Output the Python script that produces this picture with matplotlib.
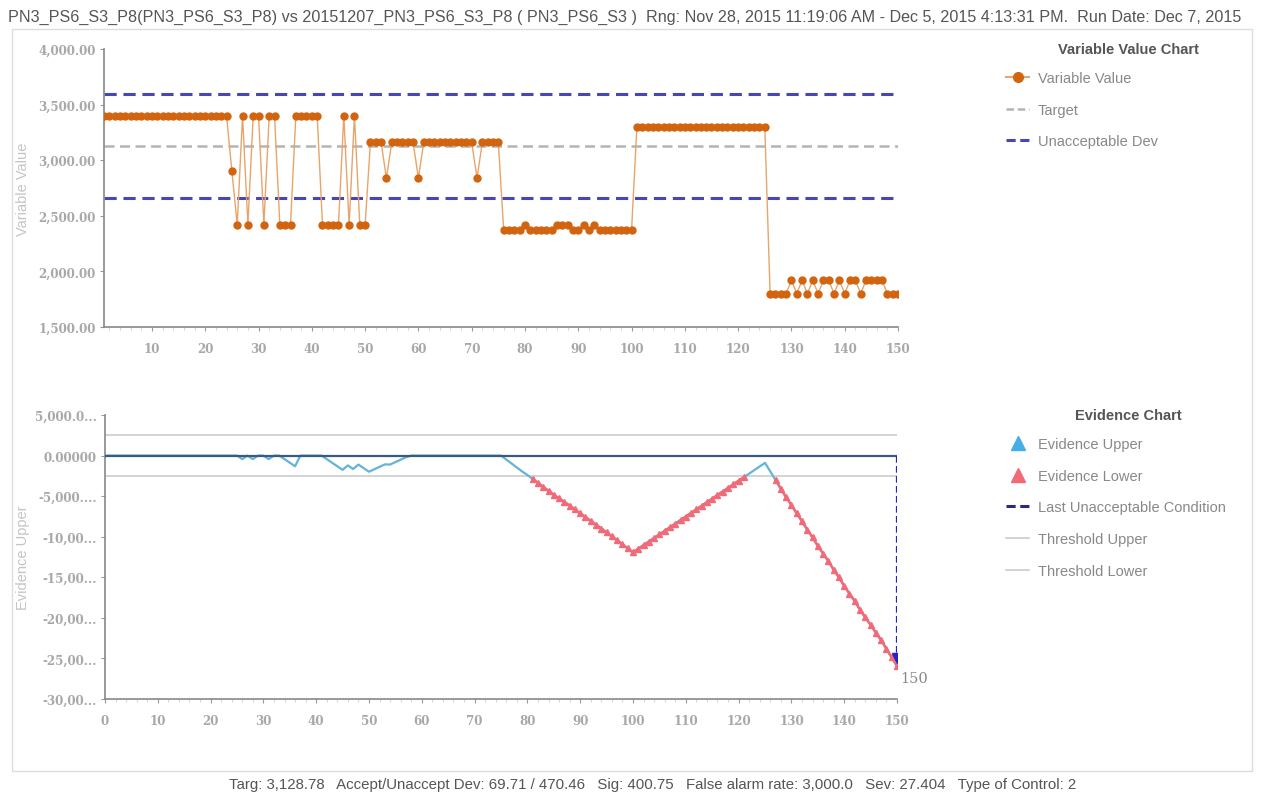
import numpy as np
import matplotlib.pyplot as plt
from matplotlib.lines import Line2D
from matplotlib.patches import Rectangle

plt.rcParams['font.family'] = ['Liberation Sans', 'DejaVu Sans']

# ---- data ----
title = ("PN3_PS6_S3_P8(PN3_PS6_S3_P8) vs 20151207_PN3_PS6_S3_P8 ( PN3_PS6_S3 )  "
         "Rng: Nov 28, 2015 11:19:06 AM - Dec 5, 2015 4:13:31 PM.  Run Date: Dec 7, 2015")
footer = ("Targ: 3,128.78   Accept/Unaccept Dev: 69.71 / 470.46   Sig: 400.75   "
          "False alarm rate: 3,000.0   Sev: 27.404   Type of Control: 2")

target = 3128.78
unaccept_dev = 470.46
threshold = 2500

# variable values, samples 1..150
var_value = (
    [3400] * 24
    + [2900, 2420, 3400, 2420, 3400, 3400, 2420, 3400, 3400, 2420, 2420, 2420]
    + [3400, 3400, 3400, 3400, 3400, 2420, 2420, 2420, 2420, 3400, 2420, 3400, 2420, 2420]
    + [3160, 3160, 3160, 2840, 3160, 3160, 3160, 3160, 3160, 2840]
    + [3160, 3160, 3160, 3160, 3160, 3160, 3160, 3160, 3160, 3160, 2840, 3160, 3160, 3160, 3160]
    + [2370, 2370, 2370, 2370, 2420, 2370, 2370, 2370, 2370, 2370, 2420, 2420, 2420,
       2370, 2370, 2420, 2370, 2420, 2370, 2370, 2370, 2370, 2370, 2370, 2370]
    + [3300] * 25
    + [1800, 1800, 1800, 1800, 1920, 1800, 1920, 1800, 1920, 1800, 1920, 1920, 1800,
       1920, 1800, 1920, 1920, 1800, 1920, 1920, 1920, 1920, 1800, 1800, 1800]
)

# evidence lower, samples 0..150
evid_lower = (
    [0] * 26
    + [-439, 0, -439, 0, 0, -439, 0, 0, -439, -878, -1317]
    + [0, 0, 0, 0, 0, -439, -878, -1317, -1756, -1215, -1654, -1113, -1552, -1991]
    + [-1690, -1389, -1088, -1107, -806, -505, -204, 0]
    + [0] * 17
    + [-489, -978, -1467, -1956, -2395, -2884, -3373, -3862, -4351, -4840, -5279, -5718,
       -6157, -6646, -7135, -7574, -8063, -8502, -8991, -9480, -9969, -10458, -10947,
       -11436, -11925]
    + [-11484, -11043, -10602, -10161, -9720, -9279, -8838, -8397, -7956, -7515, -7074,
       -6633, -6192, -5751, -5310, -4869, -4428, -3987, -3546, -3105, -2664, -2223,
       -1782, -1341, -900]
    + [-1959, -3018, -4077, -5136, -6075, -7134, -8073, -9132, -10071, -11130, -12069,
       -13008, -14067, -15006, -16065, -17004, -17943, -19002, -19941, -20880, -21819,
       -22758, -23817, -24876, -25935]
)
evid_upper = [0] * 151

ev_ticks = [5000, 0, -5000, -10000, -15000, -20000, -25000, -30000]
ev_tick_labels = ['5,000.0...', '0.00000', '-5,000....', '-10,00...', '-15,00...',
                  '-20,00...', '-25,00...', '-30,00...']

fig = plt.figure(figsize=(12.63, 8.12), dpi=100)
W, H = 1263, 812

# outer panel + footer separator
fig.patches.append(Rectangle((12 / W, 1 - 772 / H), 1240 / W, 742 / H,
                             transform=fig.transFigure, fill=False,
                             edgecolor='#dddddd', lw=1))
fig.text(8 / W, 1 - 17 / H, title, ha='left', va='center', fontsize=11.6, color='#555555')
fig.text(653 / W, 1 - 785 / H, footer, ha='center', va='center', fontsize=10.8, color='#555555')

# ---- top chart ----
ax1 = fig.add_axes([104 / W, 1 - 328 / H, 794 / W, 278 / H])
x1 = np.arange(1, len(var_value) + 1)
ax1.axhline(target + unaccept_dev, color='#4646b4', lw=2.2, ls=(0, (4, 2.2)))
ax1.axhline(target - unaccept_dev, color='#4646b4', lw=2.2, ls=(0, (4, 2.2)))
ax1.axhline(target, color='#b4b4b4', lw=1.8, ls=(0, (4, 2.2)))
ax1.plot(x1, var_value, color='#e8a46a', lw=1, zorder=3)
ax1.plot(x1, var_value, ls='none', marker='o', ms=5, color='#d2640f', zorder=4)
ax1.set_xlim(1, 150)
ax1.set_ylim(1500, 4000)
ax1.set_xticks(range(10, 151, 10))
ax1.set_xticks(range(2, 151, 2), minor=True)
ax1.set_yticks(range(1500, 4001, 500))
ax1.set_yticklabels(['{:,.2f}'.format(v) for v in range(1500, 4001, 500)])
ax1.set_ylabel('Variable Value', color='#c4c4c4', fontsize=10.5)
ax1.yaxis.set_label_coords((30 - 104) / 794, 0.5)

# ---- bottom chart ----
ax2 = fig.add_axes([105 / W, 1 - 700 / H, 792 / W, 284 / H])
x2 = np.arange(0, len(evid_lower))
ev = np.array(evid_lower, dtype=float)
ax2.axhline(threshold, color='#cccccc', lw=1.2)
ax2.axhline(-threshold, color='#cccccc', lw=1.2)
ax2.plot(x2, ev, color='#62b4d8', lw=1.6, zorder=3)
red = np.where(ev < -threshold, ev, np.nan)
ax2.plot(x2, red, color='#f06a78', lw=1.8, marker='^', ms=5, zorder=4)
ax2.plot(x2, evid_upper, color='#3c5a7c', lw=1.6, zorder=5)
ax2.plot([x2[-1], x2[-1]], [evid_upper[-1], ev[-1] + 600], color='#2323c8', lw=1.6,
         ls=(0, (3, 1.5)), zorder=6)
ax2.plot(x2[-1], ev[-1] + 1000, marker='v', ms=6.5, color='#2323c8', zorder=7)
ax2.text(x2[-1] + 0.6, ev[-1] - 1500, str(x2[-1]), color='#888888', fontsize=10.5,
         family='DejaVu Serif', ha='left', va='center')
ax2.set_xlim(0, 150)
ax2.set_ylim(-30000, 5000)
ax2.set_xticks(range(0, 151, 10))
ax2.set_xticks(range(2, 151, 2), minor=True)
ax2.set_yticks(ev_ticks)
ax2.set_yticklabels(ev_tick_labels)
ax2.set_ylabel('Evidence Upper', color='#c4c4c4', fontsize=10.5)
ax2.yaxis.set_label_coords((30 - 105) / 792, 0.5)

for ax in (ax1, ax2):
    for s in ('top', 'right'):
        ax.spines[s].set_visible(False)
    for s in ('left', 'bottom'):
        ax.spines[s].set_color('#888888')
        ax.spines[s].set_linewidth(1.2)
    ax.tick_params(axis='both', which='major', length=3, color='#999999', pad=3)
    ax.tick_params(axis='x', which='major', pad=8)
    ax.tick_params(axis='x', which='minor', length=2, color='#cccccc')
    for lab in ax.get_xticklabels() + ax.get_yticklabels():
        lab.set_fontproperties(dict(family='DejaVu Serif', weight='bold', size=8.6))
        lab.set_color('#a8a8a8')

leg_kw = dict(frameon=False, fontsize=10.5, labelcolor='#888888', handlelength=1.6,
              labelspacing=1.22, handletextpad=0.6, borderaxespad=0)

fig.text(1128 / W, 1 - 50 / H, 'Variable Value Chart', ha='center', va='center',
         fontsize=10.5, weight='bold', color='#555555')
h1 = [Line2D([], [], color='#e8a46a', lw=1.5, marker='o', ms=7, mfc='#d2640f', mec='#d2640f'),
      Line2D([], [], color='#b4b4b4', lw=1.8, ls=(0, (3, 1.5))),
      Line2D([], [], color='#4646b4', lw=2.2, ls=(0, (3, 1.5)))]
fig.legend(h1, ['Variable Value', 'Target', 'Unacceptable Dev'], loc='upper left',
           bbox_to_anchor=(1000 / W, 1 - 66 / H), **leg_kw)

fig.text(1128 / W, 1 - 416 / H, 'Evidence Chart', ha='center', va='center',
         fontsize=10.5, weight='bold', color='#555555')
h2 = [Line2D([], [], ls='none', marker='^', ms=10, color='#45aee6'),
      Line2D([], [], ls='none', marker='^', ms=10, color='#f06a78'),
      Line2D([], [], color='#2a2a80', lw=2.2, ls=(0, (3, 1.5))),
      Line2D([], [], color='#cccccc', lw=1.2),
      Line2D([], [], color='#cccccc', lw=1.2)]
fig.legend(h2, ['Evidence Upper', 'Evidence Lower', 'Last Unacceptable Condition',
                'Threshold Upper', 'Threshold Lower'], loc='upper left',
           bbox_to_anchor=(1000 / W, 1 - 432 / H), **leg_kw)

fig.savefig('out.png', dpi=100)
